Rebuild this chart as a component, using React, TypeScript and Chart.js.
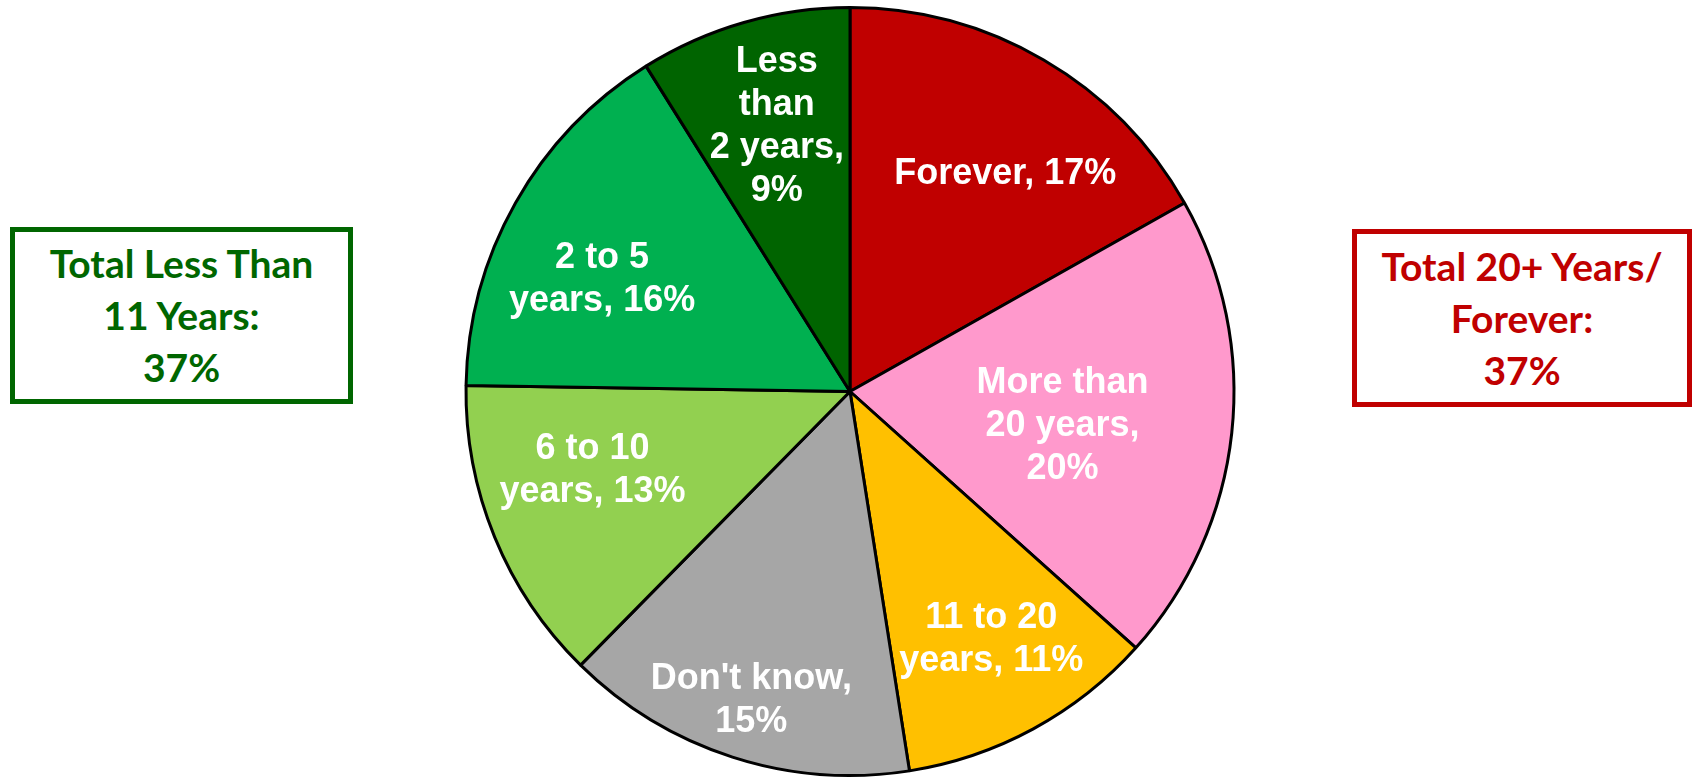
import React, { useEffect, useRef } from "react";
import { Chart, registerables } from "chart.js";

Chart.register(...registerables);

const categories = [
  "Forever",
  "More than 20 years",
  "11 to 20 years",
  "Don't know",
  "6 to 10 years",
  "2 to 5 years",
  "Less than 2 years",
];
const values = [17, 20, 11, 15, 13, 16, 9];
const sliceColors = ["#C00000", "#FF99CC", "#FFC000", "#A6A6A6", "#92D050", "#00B050", "#006400"];
const labelLines = [
  ["Forever, 17%"],
  ["More than", "20 years,", "20%"],
  ["11 to 20", "years, 11%"],
  ["Don't know,", "15%"],
  ["6 to 10", "years, 13%"],
  ["2 to 5", "years, 16%"],
  ["Less", "than", "2 years,", "9%"],
];
const leftBoxLines = ["Total Less Than", "11 Years:", "37%"];
const rightBoxLines = ["Total 20+ Years/", "Forever:", "37%"];

// label placement relative to each slice's middle (radius fraction, angle offset in degrees)
const labelRadius = [0.7, 0.56, 0.74, 0.84, 0.7, 0.71, 0.72];
const labelAngleOffset = [5.0, 2.6, -1.3, 0, 5.6, -4.8, 0.7];

const sliceLabelPlugin = {
  id: "sliceLabels",
  afterDatasetsDraw(chart: any) {
    const ctx = chart.ctx;
    const meta = chart.getDatasetMeta(0);
    ctx.save();
    ctx.fillStyle = "#FFFFFF";
    ctx.font = "bold 36px 'Liberation Sans', Arial, sans-serif";
    ctx.textAlign = "center";
    ctx.textBaseline = "middle";
    const lh = 43;
    meta.data.forEach((arc: any, i: number) => {
      const p = arc.getProps(["x", "y", "startAngle", "endAngle", "outerRadius"], true);
      const a = (p.startAngle + p.endAngle) / 2 + (labelAngleOffset[i] * Math.PI) / 180;
      const r = p.outerRadius * labelRadius[i];
      const cx = p.x + Math.cos(a) * r;
      const cy = p.y + Math.sin(a) * r;
      const lines = labelLines[i];
      const top = cy - ((lines.length - 1) * lh) / 2;
      lines.forEach((ln, j) => {
        ctx.fillText(ln, cx, top + j * lh + 2);
      });
    });
    ctx.restore();
  },
};

function Box({ lines, color, left, top, width, height, pad }: any) {
  return (
    <div
      style={{
        position: "absolute",
        left,
        top,
        width,
        height,
        boxSizing: "border-box",
        border: `5px solid ${color}`,
        background: "#FFFFFF",
        color,
        fontFamily: "Lato, 'Open Sans', sans-serif",
        fontWeight: 700,
        fontSize: 39,
        lineHeight: "52px",
        textAlign: "center",
        paddingTop: pad,
      }}
    >
      {lines.map((l: string, i: number) => (
        <div key={i}>{l}</div>
      ))}
    </div>
  );
}

export default function App() {
  const canvasRef = useRef<HTMLCanvasElement | null>(null);

  useEffect(() => {
    const canvas = canvasRef.current;
    if (!canvas) return;
    const chart = new Chart(canvas, {
      type: "pie",
      data: {
        labels: categories,
        datasets: [
          {
            data: values,
            backgroundColor: sliceColors,
            borderColor: "#000000",
            borderWidth: 3,
          },
        ],
      },
      options: {
        responsive: false,
        animation: false,
        layout: { padding: { left: 8, right: 0, top: 6, bottom: 1 } },
        plugins: {
          legend: { display: false },
          tooltip: { enabled: false },
        },
      },
      plugins: [sliceLabelPlugin],
    });
    return () => chart.destroy();
  }, []);

  return (
    <div
      style={{
        position: "fixed",
        left: 0,
        top: 0,
        width: 1692,
        height: 778,
        background: "#FFFFFF",
        overflow: "hidden",
      }}
    >
      <canvas
        ref={canvasRef}
        width={1692}
        height={778}
        style={{ position: "absolute", left: 0, top: 0, width: 1692, height: 778 }}
      />
      <Box lines={leftBoxLines} color="#006600" left={10} top={227} width={343} height={177} pad={5} />
      <Box lines={rightBoxLines} color="#C00000" left={1352} top={229} width={340} height={178} pad={6} />
    </div>
  );
}
